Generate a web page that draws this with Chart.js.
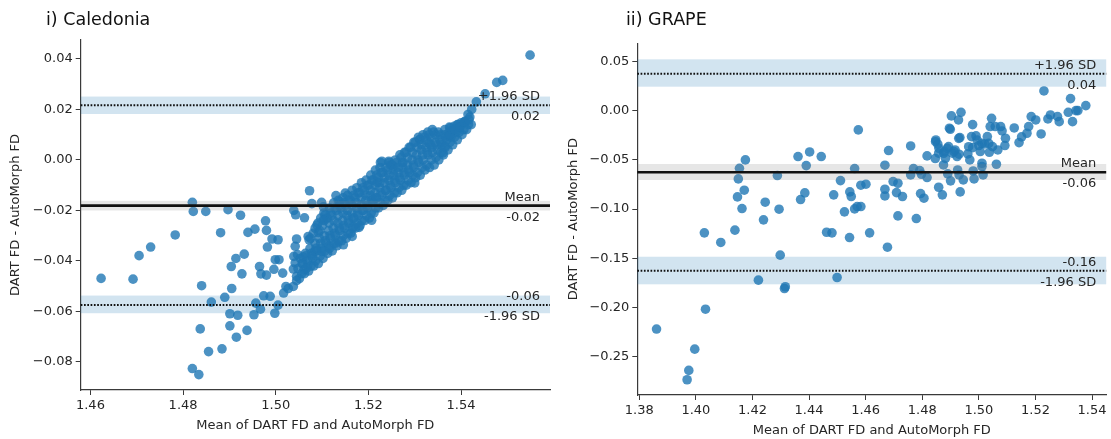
<!DOCTYPE html>
<html>
<head>
<meta charset="utf-8">
<script src="https://cdn.jsdelivr.net/npm/chart.js@4.4.1/dist/chart.umd.min.js"></script>
<style>
  body { margin: 0; background: #fff; width: 1111px; height: 439px; overflow: hidden; position: relative; font-family: "DejaVu Sans", sans-serif; }
  canvas { position: absolute; top: 0; }
  #calChart { left: 0; }
  #grapeChart { left: 560px; }
  .ttl { position: absolute; top: 9px; font-size: 17.5px; color: #111; white-space: nowrap; }
</style>
</head>
<body>
<canvas id="calChart" width="560" height="439"></canvas>
<canvas id="grapeChart" width="551" height="439"></canvas>
<div class="ttl" style="left:46px">i) Caledonia</div>
<div class="ttl" style="left:626px">ii) GRAPE</div>
<script>
// ==================== DATA ====================
const X_TITLE = 'Mean of DART FD and AutoMorph FD';
const Y_TITLE = 'DART FD - AutoMorph FD';

// --- i) Caledonia ---
const calXTicks = [1.46, 1.48, 1.50, 1.52, 1.54];
const calYTicks = [-0.08, -0.06, -0.04, -0.02, 0.00, 0.02, 0.04];
const calXRange = [1.4579, 1.5592];
const calYRange = [-0.0911, 0.0475];
const calLoa = [0.0217, -0.0181, -0.0574];           // +1.96 SD, mean, -1.96 SD
const calLoaBands = [[0.0182, 0.0251], [-0.0200, -0.0162], [-0.0607, -0.0537]];
const calLoaText = [['+1.96 SD', '0.02'], ['Mean', '-0.02'], ['-0.06', '-1.96 SD']];

// scattered points
const calOutliers = [
  [1.5549,0.0415],[1.5477,0.0307],[1.549,0.0315],[1.5452,0.0262],[1.5433,0.023],
  [1.4623,-0.0469],[1.4692,-0.0472],[1.4705,-0.0379],[1.473,-0.0345],[1.4783,-0.0297],
  [1.482,-0.0168],[1.4822,-0.0204],[1.4849,-0.0204],[1.4897,-0.0197],[1.4924,-0.0219],
  [1.4881,-0.0288],[1.484,-0.0498],[1.4861,-0.0563],[1.4837,-0.0669],[1.4855,-0.0759],
  [1.482,-0.0826],[1.4834,-0.085],[1.4884,-0.0748],[1.489,-0.0544],[1.4905,-0.0509],
  [1.4904,-0.0422],[1.4914,-0.039],[1.4927,-0.0451],[1.4901,-0.0609],[1.4918,-0.0615],
  [1.4901,-0.0657],[1.4915,-0.0702],[1.4938,-0.0675],[1.4932,-0.0373],[1.494,-0.0287],
  [1.4955,-0.0274],[1.4978,-0.0241],[1.498,-0.0279],[1.4982,-0.0345],[1.4992,-0.0313],
  [1.5005,-0.0316],[1.4965,-0.0422],[1.4968,-0.0451],[1.498,-0.0456],[1.4996,-0.0433],
  [1.4999,-0.0395],[1.5007,-0.0395],[1.4974,-0.0538],[1.4988,-0.054],[1.4957,-0.0567],
  [1.4967,-0.0591],[1.4953,-0.0613],[1.4998,-0.0607],[1.5005,-0.0575],[1.5015,-0.0448],
  [1.5017,-0.0527],[1.5027,-0.0509],[1.5022,-0.0501],[1.5038,-0.0501],[1.5039,-0.02],
  [1.5043,-0.0217],[1.5062,-0.0229],[1.5073,-0.0122],[1.5045,-0.0313],[1.5042,-0.0342],
  [1.5047,-0.0375],[1.5039,-0.0382],[1.5042,-0.0408],[1.5059,-0.0385],[1.5038,-0.0432],
  [1.5045,-0.0461],[1.5045,-0.0478],[1.5078,-0.0173],[1.5099,-0.0168],[1.5103,-0.0186],
  [1.507,-0.0303],[1.5072,-0.0316],[1.5089,-0.0258],[1.5092,-0.0287],[1.5103,-0.0237],
  [1.5107,-0.0217],[1.513,-0.0141],[1.515,-0.0131],[1.5138,-0.0164],[1.5167,-0.0263],
  [1.518,-0.0267],[1.5165,-0.0303],[1.5146,-0.0336],[1.513,-0.0329],[1.5115,-0.0342],
  [1.5099,-0.0362],[1.5084,-0.0362],[1.508,-0.0389],[1.5069,-0.0415],[1.5061,-0.0435],
  [1.5207,-0.0239],[1.5211,-0.0157],[1.5219,-0.0089],[1.5229,-0.0005],[1.5244,-0.0005],
  [1.5254,-0.0025],[1.5273,-0.0012],[1.53,-0.0091],[1.5311,0.0081],[1.5331,0.0067],
  [1.5361,0.0028],[1.5365,0.0054],[1.5373,0.0094],[1.5385,0.0133],[1.54,0.0147],
  [1.5408,0.0153],[1.5415,0.018],[1.5423,0.02],[1.5392,0.014],[1.5377,0.0127]
];

// dense diagonal cloud
const calCloud = [
  [1.5051,-0.047],[1.5048,-0.043],[1.5053,-0.039],
  [1.5062,-0.045],[1.5058,-0.041],[1.5064,-0.037],
  [1.5071,-0.044],[1.5068,-0.040],[1.5074,-0.035],
  [1.5082,-0.042],[1.5078,-0.038],[1.5085,-0.033],[1.5081,-0.029],
  [1.5092,-0.041],[1.5089,-0.036],[1.5094,-0.031],[1.5091,-0.025],
  [1.5102,-0.039],[1.5098,-0.035],[1.5105,-0.030],[1.5101,-0.026],[1.5104,-0.021],
  [1.5112,-0.037],[1.5109,-0.033],[1.5114,-0.028],[1.5111,-0.023],[1.5116,-0.019],
  [1.5122,-0.036],[1.5118,-0.031],[1.5124,-0.027],[1.5121,-0.022],[1.5125,-0.017],
  [1.5132,-0.034],[1.5129,-0.030],[1.5134,-0.025],[1.5131,-0.020],[1.5135,-0.016],
  [1.5142,-0.032],[1.5138,-0.028],[1.5144,-0.024],[1.5141,-0.019],[1.5145,-0.015],
  [1.5152,-0.031],[1.5149,-0.027],[1.5154,-0.022],[1.5151,-0.018],[1.5155,-0.014],
  [1.5162,-0.029],[1.5158,-0.025],[1.5164,-0.021],[1.5161,-0.016],[1.5165,-0.012],
  [1.5172,-0.027],[1.5169,-0.023],[1.5174,-0.019],[1.5171,-0.015],[1.5175,-0.011],
  [1.5182,-0.026],[1.5178,-0.022],[1.5184,-0.018],[1.5181,-0.013],[1.5185,-0.009],
  [1.5192,-0.024],[1.5189,-0.020],[1.5194,-0.016],[1.5191,-0.012],[1.5195,-0.008],
  [1.5202,-0.023],[1.5198,-0.019],[1.5204,-0.014],[1.5201,-0.010],[1.5205,-0.006],
  [1.5212,-0.021],[1.5209,-0.017],[1.5214,-0.013],[1.5211,-0.008],[1.5215,-0.004],
  [1.5222,-0.019],[1.5218,-0.015],[1.5224,-0.011],[1.5221,-0.007],[1.5225,-0.003],
  [1.5232,-0.018],[1.5229,-0.014],[1.5234,-0.009],[1.5231,-0.005],
  [1.5242,-0.016],[1.5238,-0.012],[1.5244,-0.008],[1.5241,-0.004],[1.5245,-0.001],
  [1.5252,-0.015],[1.5249,-0.011],[1.5254,-0.006],[1.5251,-0.002],
  [1.5262,-0.013],[1.5258,-0.009],[1.5264,-0.005],[1.5261,-0.001],
  [1.5272,-0.012],[1.5269,-0.008],[1.5274,-0.003],[1.5271,0.001],
  [1.5282,-0.010],[1.5278,-0.006],[1.5284,-0.002],[1.5281,0.003],
  [1.5292,-0.009],[1.5289,-0.005],[1.5294,0.000],[1.5291,0.005],
  [1.5302,-0.007],[1.5298,-0.003],[1.5304,0.002],[1.5301,0.007],
  [1.5312,-0.006],[1.5309,-0.001],[1.5314,0.004],[1.5311,0.008],
  [1.5322,-0.004],[1.5318,0.000],[1.5324,0.005],[1.5321,0.009],
  [1.5332,-0.003],[1.5329,0.002],[1.5334,0.006],[1.5331,0.010],
  [1.5342,-0.002],[1.5338,0.003],[1.5344,0.007],[1.5341,0.011],
  [1.5352,0.000],[1.5349,0.004],[1.5354,0.008],[1.5351,0.011],
  [1.5362,0.002],[1.5358,0.006],[1.5364,0.010],
  [1.5372,0.004],[1.5369,0.008],[1.5374,0.011],
  [1.5382,0.006],[1.5378,0.009],[1.5384,0.012],
  [1.5392,0.008],[1.5389,0.011],[1.5394,0.014],
  [1.5402,0.010],[1.5398,0.013],
  [1.5412,0.012],[1.5409,0.015],
  [1.5422,0.014],[1.5419,0.017],
  // second layer filling the gaps of the cloud
  [1.5056,-0.045],[1.5057,-0.041],
  [1.5066,-0.043],[1.5065,-0.038],
  [1.5076,-0.042],[1.5077,-0.037],[1.5075,-0.031],
  [1.5086,-0.040],[1.5087,-0.035],[1.5085,-0.027],
  [1.5096,-0.038],[1.5097,-0.033],[1.5095,-0.028],[1.5097,-0.023],
  [1.5106,-0.036],[1.5107,-0.032],[1.5105,-0.024],
  [1.5116,-0.035],[1.5117,-0.030],[1.5115,-0.025],[1.5118,-0.021],
  [1.5126,-0.033],[1.5127,-0.029],[1.5125,-0.024],[1.5128,-0.019],
  [1.5136,-0.032],[1.5137,-0.027],[1.5135,-0.022],[1.5138,-0.018],
  [1.5146,-0.030],[1.5147,-0.026],[1.5145,-0.021],[1.5148,-0.017],
  [1.5156,-0.029],[1.5157,-0.024],[1.5155,-0.020],[1.5158,-0.016],
  [1.5166,-0.027],[1.5167,-0.023],[1.5165,-0.018],[1.5168,-0.014],
  [1.5176,-0.025],[1.5177,-0.021],[1.5175,-0.017],[1.5178,-0.013],
  [1.5186,-0.024],[1.5187,-0.020],[1.5185,-0.015],[1.5188,-0.011],
  [1.5196,-0.022],[1.5197,-0.018],[1.5195,-0.014],[1.5198,-0.010],
  [1.5206,-0.021],[1.5207,-0.016],[1.5205,-0.012],[1.5208,-0.008],
  [1.5216,-0.019],[1.5217,-0.015],[1.5215,-0.010],[1.5218,-0.006],
  [1.5226,-0.017],[1.5227,-0.013],[1.5225,-0.009],[1.5228,-0.005],[1.5226,-0.001],
  [1.5236,-0.016],[1.5237,-0.012],[1.5235,-0.007],[1.5238,-0.003],
  [1.5246,-0.014],[1.5247,-0.010],[1.5245,-0.006],[1.5248,-0.002],
  [1.5256,-0.013],[1.5257,-0.008],[1.5255,-0.004],[1.5258,0.000],
  [1.5266,-0.011],[1.5267,-0.007],[1.5265,-0.003],[1.5268,0.002],
  [1.5276,-0.010],[1.5277,-0.005],[1.5275,-0.001],[1.5278,0.003],
  [1.5286,-0.008],[1.5287,-0.004],[1.5285,0.001],[1.5288,0.005],
  [1.5296,-0.006],[1.5297,-0.002],[1.5295,0.003],[1.5298,0.007],
  [1.5306,-0.005],[1.5307,0.000],[1.5305,0.005],[1.5308,0.009],
  [1.5316,-0.003],[1.5317,0.002],[1.5315,0.006],[1.5318,0.010],
  [1.5326,-0.002],[1.5327,0.003],[1.5325,0.008],[1.5328,0.011],
  [1.5336,0.000],[1.5337,0.005],[1.5335,0.009],[1.5338,0.012],
  [1.5346,0.001],[1.5347,0.006],[1.5345,0.010],
  [1.5356,0.003],[1.5357,0.007],[1.5355,0.010],
  [1.5366,0.005],[1.5367,0.009],[1.5365,0.012],
  [1.5376,0.007],[1.5377,0.010],[1.5375,0.013],
  [1.5386,0.009],[1.5387,0.012],
  [1.5396,0.011],[1.5397,0.013],
  [1.5406,0.012],[1.5407,0.015],
  [1.5416,0.014],[1.5417,0.016]
];

// --- ii) GRAPE ---
const grapeXTicks = [1.38, 1.40, 1.42, 1.44, 1.46, 1.48, 1.50, 1.52, 1.54];
const grapeYTicks = [-0.25, -0.20, -0.15, -0.10, -0.05, 0.00, 0.05];
const grapeXRange = [1.3793, 1.5450];
const grapeYRange = [-0.289, 0.0684];
const grapeLoa = [0.0375, -0.0627, -0.1627];
const grapeLoaBands = [[0.0243, 0.0521], [-0.0705, -0.0543], [-0.1765, -0.1485]];
const grapeLoaText = [['+1.96 SD', '0.04'], ['Mean', '-0.06'], ['-0.16', '-1.96 SD']];

const grapePoints = [
  [1.3861,-0.222],[1.3996,-0.2424],[1.3975,-0.264],[1.3969,-0.2735],[1.4034,-0.2018],
  [1.403,-0.1242],[1.4088,-0.134],[1.4138,-0.1215],[1.4154,-0.0586],[1.415,-0.0694],
  [1.4175,-0.0501],[1.4171,-0.0809],[1.4147,-0.0877],[1.4163,-0.0995],[1.4221,-0.1723],
  [1.4239,-0.111],[1.4245,-0.0931],[1.4288,-0.066],[1.4294,-0.1002],[1.4298,-0.1469],
  [1.4313,-0.1808],[1.4316,-0.179],[1.4361,-0.0467],[1.4402,-0.042],[1.439,-0.0559],
  [1.4443,-0.0467],[1.4385,-0.0836],[1.437,-0.0904],[1.4462,-0.1236],[1.4481,-0.1242],
  [1.4487,-0.0856],[1.4511,-0.0711],[1.4525,-0.1029],[1.4543,-0.129],[1.4499,-0.1696],
  [1.4544,-0.0826],[1.4549,-0.0873],[1.4561,-0.0589],[1.4574,-0.0196],[1.4561,-0.0999],
  [1.457,-0.0975],[1.4583,-0.0975],[1.4583,-0.0758],[1.4601,-0.0748],[1.4614,-0.1242],
  [1.4668,-0.0555],[1.4681,-0.0406],[1.4668,-0.0799],[1.4668,-0.0867],[1.4677,-0.1388],
  [1.4697,-0.0721],[1.4709,-0.0833],[1.4714,-0.0738],[1.4714,-0.107],[1.473,-0.0873],
  [1.4759,-0.0359],[1.4759,-0.0653],[1.4769,-0.0589],[1.4779,-0.1097],[1.4791,-0.0609],
  [1.4797,-0.0647],[1.4794,-0.0843],[1.4806,-0.089],[1.4817,-0.068],[1.4817,-0.046],
  [1.4846,-0.0487],[1.4848,-0.0298],[1.4855,-0.0342],[1.4858,-0.0779],[1.4871,-0.0856],
  [1.4858,-0.0433],[1.4875,-0.0552],[1.4878,-0.0416],[1.4893,-0.0366],[1.4896,-0.0179],
  [1.4903,-0.0054],[1.4899,-0.019],[1.489,-0.0643],[1.49,-0.0714],[1.4906,-0.0433],
  [1.4916,-0.04],[1.4923,-0.0467],[1.4925,-0.0603],[1.4937,-0.0017],[1.4928,-0.0095],
  [1.4933,-0.0274],[1.493,-0.0443],[1.493,-0.0653],[1.4945,-0.0704],[1.4934,-0.0826],
  [1.4961,-0.044],[1.4968,-0.0501],[1.4978,-0.0142],[1.4974,-0.0264],[1.4978,-0.0376],
  [1.4983,-0.0694],[1.498,-0.0613],[1.499,-0.0257],[1.5,-0.0355],[1.5005,-0.0416],
  [1.5011,-0.0535],[1.5011,-0.0569],[1.5015,-0.0653],[1.5021,-0.0339],[1.503,-0.0264],
  [1.504,-0.0162],[1.5045,-0.0078],[1.5037,-0.0423],[1.5048,-0.0366],[1.5058,-0.0162],
  [1.5067,-0.04],[1.5062,-0.0545],[1.5077,-0.0162],[1.5082,-0.0207],[1.5094,-0.0281],
  [1.5092,-0.0355],[1.5125,-0.0176],[1.5142,-0.0325],[1.5151,-0.0267],[1.517,-0.023],
  [1.5176,-0.0162],[1.5185,-0.0061],[1.5201,-0.0095],[1.522,-0.0237],[1.523,0.02],
  [1.5244,-0.0085],[1.5253,-0.0044],[1.5278,-0.0061],[1.5284,-0.0112],[1.5316,-0.0017],
  [1.5324,0.0122],[1.5331,-0.0112],[1.5343,0.0],[1.535,0.0],[1.5378,0.0051],
  [1.4847,-0.0316],[1.4859,-0.0383],[1.4876,-0.0434],[1.4888,-0.0383],[1.4912,-0.0417],
  [1.4882,-0.0485],[1.4929,-0.0282],[1.4964,-0.0367],[1.4994,-0.0299],[1.5011,-0.0333],
  [1.5035,-0.0333]
];

// ==================== STYLE ====================
const POINT_COLOR = 'rgba(31,119,180,0.8)';
const BAND_COLOR = 'rgba(31,119,180,0.2)';
const MEAN_BAND_COLOR = 'rgba(128,128,128,0.2)';
const TEXT_COLOR = '#262626';
const AXIS_COLOR = '#3a3a3a';

Chart.defaults.font.family = "'DejaVu Sans', sans-serif";
Chart.defaults.font.size = 13;
Chart.defaults.color = TEXT_COLOR;

// tick labels use a real minus sign like matplotlib
const fmtTick = v => (v < 0 ? '\u2212' : '') + Math.abs(v).toFixed(2);

// bands, limit lines and their labels, drawn over the scatter
const loaPlugin = {
  id: 'loa',
  afterDatasetsDraw(chart, args, opts) {
    const { ctx, chartArea: a, scales: { y } } = chart;
    ctx.save();
    opts.bands.forEach((b, i) => {
      const top = y.getPixelForValue(b[1]);
      const bot = y.getPixelForValue(b[0]);
      ctx.fillStyle = i === 1 ? MEAN_BAND_COLOR : BAND_COLOR;
      ctx.fillRect(a.left, top, a.right - a.left, bot - top);
    });
    ctx.font = "13px 'DejaVu Sans', sans-serif";
    ctx.textAlign = 'right';
    ctx.textBaseline = 'alphabetic';
    opts.lines.forEach((v, i) => {
      const py = y.getPixelForValue(v);
      ctx.beginPath();
      ctx.strokeStyle = '#111';
      if (i === 1) { ctx.setLineDash([]); ctx.lineWidth = 2.6; }
      else { ctx.setLineDash([1.7, 1.6]); ctx.lineWidth = 2; }
      ctx.moveTo(a.left, py);
      ctx.lineTo(a.right, py);
      ctx.stroke();
      ctx.fillStyle = TEXT_COLOR;
      ctx.fillText(opts.labels[i][0], a.right - 10, py - 5);
      ctx.fillText(opts.labels[i][1], a.right - 10, py + 15);
    });
    ctx.restore();
  }
};

function makeChart(id, points, o) {
  return new Chart(document.getElementById(id), {
    type: 'scatter',
    data: {
      datasets: [{
        data: points.map(p => ({ x: p[0], y: p[1] })),
        backgroundColor: POINT_COLOR,
        borderWidth: 0,
        pointRadius: 4.8,
        pointHoverRadius: 4.8
      }]
    },
    options: {
      responsive: false,
      animation: false,
      events: [],
      clip: false,
      layout: { padding: { top: o.padTop, right: o.padRight, left: 0, bottom: 0 } },
      plugins: {
        legend: { display: false },
        tooltip: { enabled: false },
        loa: { lines: o.loa, bands: o.bands, labels: o.text }
      },
      scales: {
        x: {
          type: 'linear',
          min: o.xRange[0], max: o.xRange[1],
          afterBuildTicks: s => { s.ticks = o.xTicks.map(v => ({ value: v })); },
          afterFit: s => { s.height = o.xHeight; },
          ticks: { autoSkip: false, maxRotation: 0, padding: 3, callback: v => v.toFixed(2) },
          grid: { drawOnChartArea: false, drawTicks: true, tickLength: 5, color: AXIS_COLOR },
          border: { color: AXIS_COLOR, width: 1.2 },
          title: { display: true, text: X_TITLE, padding: { top: 0, bottom: o.xTitlePad } }
        },
        y: {
          type: 'linear',
          min: o.yRange[0], max: o.yRange[1],
          afterBuildTicks: s => { s.ticks = o.yTicks.map(v => ({ value: v })); },
          afterFit: s => { s.width = o.yWidth; },
          ticks: { autoSkip: false, padding: 3, callback: v => fmtTick(v) },
          grid: { drawOnChartArea: false, drawTicks: true, tickLength: 5, color: AXIS_COLOR },
          border: { color: AXIS_COLOR, width: 1.2 },
          title: { display: true, text: Y_TITLE, padding: { top: o.yTitlePad, bottom: 0 } }
        }
      }
    },
    plugins: [loaPlugin]
  });
}

makeChart('calChart', calOutliers.concat(calCloud), {
  xRange: calXRange, yRange: calYRange, xTicks: calXTicks, yTicks: calYTicks,
  loa: calLoa, bands: calLoaBands, text: calLoaText,
  padTop: 40, padRight: 10, yWidth: 80.7, xHeight: 49, xTitlePad: 6, yTitlePad: 8
});

makeChart('grapeChart', grapePoints, {
  xRange: grapeXRange, yRange: grapeYRange, xTicks: grapeXTicks, yTicks: grapeYTicks,
  loa: grapeLoa, bands: grapeLoaBands, text: grapeLoaText,
  padTop: 43.3, padRight: 3, yWidth: 77.3, xHeight: 44, xTitlePad: 1, yTitlePad: 6
});
</script>
</body>
</html>
